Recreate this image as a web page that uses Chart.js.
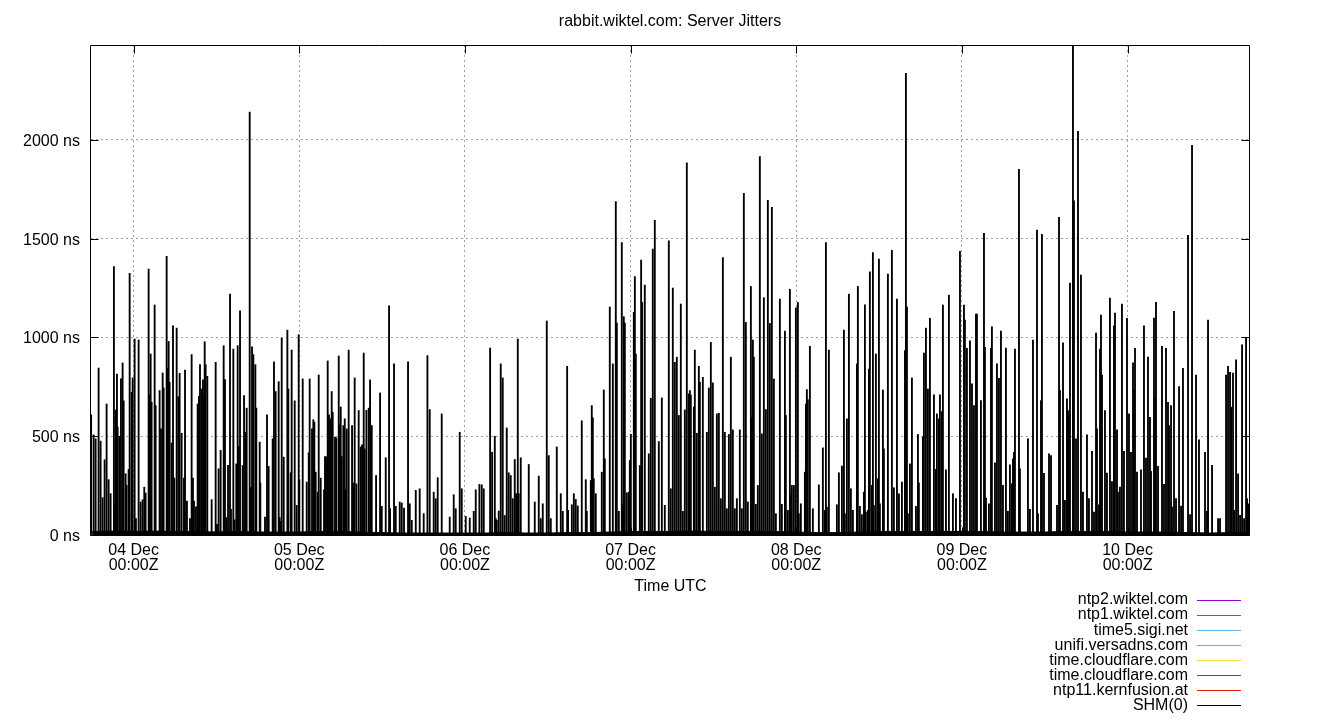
<!DOCTYPE html>
<html><head><meta charset="utf-8">
<script src="https://cdn.jsdelivr.net/npm/chart.js@4.4.1/dist/chart.umd.min.js"></script>
<style>html,body{margin:0;padding:0;background:#fff;}#wrap{width:1340px;height:720px;}</style>
</head><body><div id="wrap"><canvas id="c" width="1340" height="720"></canvas></div>
<script>
// Hours relative to 04 Dec 00:00Z
const serverNames = ['ntp2.wiktel.com','ntp1.wiktel.com','time5.sigi.net','unifi.versadns.com','time.cloudflare.com','time.cloudflare.com','ntp11.kernfusion.at','SHM(0)'];
const serverColors = ['#9400d3','#009e73','#56b4e9','#e69f00','#f0e442','#0072b2','#e51e10','#000000'];

const shmHours = [
-6.15,-5.79,-5.50,-5.07,-4.78,-4.49,-4.20,-3.91,-3.62,-3.33,
-2.85,-2.75,-2.60,-2.41,-2.31,-2.07,-1.83,-1.59,-1.44,-1.15,
-1.01,-0.72,-0.57,-0.28,-0.14,0.15,0.34,0.73,1.02,1.31,
1.55,1.74,2.18,2.32,2.47,2.61,3.05,3.19,3.77,3.97,
4.21,4.35,4.79,4.93,5.08,5.22,5.51,5.71,5.90,6.24,
6.48,6.67,6.96,7.30,7.45,7.73,8.17,8.41,8.60,8.75,
9.04,9.28,9.47,9.62,9.86,10.05,10.15,10.30,10.44,10.68,
11.31,11.89,12.08,12.32,12.61,13.05,13.24,13.44,13.68,13.97,
14.11,14.45,14.64,14.88,15.08,15.22,15.42,15.80,16.00,16.19,
16.38,16.82,16.96,17.16,17.35,17.64,17.78,18.27,18.36,19.04,
19.33,19.57,20.15,20.34,20.58,21.02,21.16,21.36,21.46,21.75,
22.28,22.42,22.76,22.90,23.34,23.63,23.92,24.01,24.50,25.08,
25.37,25.51,25.85,26.04,26.19,26.38,26.67,26.82,27.11,27.59,
27.73,27.88,28.12,28.31,28.51,28.70,28.85,29.18,29.38,29.72,
29.86,30.01,30.15,30.39,30.59,30.73,30.88,31.16,31.65,31.89,
32.03,32.28,32.61,32.90,33.10,33.34,33.48,33.73,34.06,34.26,
34.50,35.13,35.71,35.95,36.53,37.01,37.16,37.73,37.98,38.56,
38.85,39.18,39.76,40.01,40.30,40.88,41.45,42.03,42.57,42.90,
43.48,43.77,44.06,44.64,45.80,46.38,46.67,47.25,47.54,48.12,
48.70,49.28,49.57,50.10,
50.44,50.73,51.65,51.94,52.33,52.47,52.62,52.90,53.19,53.48,
53.77,54.06,54.35,54.64,54.93,55.22,55.42,55.66,55.80,56.09,
57.25,58.12,58.70,58.99,59.28,59.86,60.15,60.44,61.31,61.89,
62.18,62.81,62.95,63.49,63.78,64.06,64.35,64.93,65.51,65.66,
66.24,66.38,66.53,66.67,66.96,67.83,68.12,68.27,68.99,69.43,
69.86,70.01,70.30,70.73,70.88,71.02,71.17,71.46,71.75,71.89,
72.04,72.47,72.62,72.76,73.34,73.53,73.68,74.06,74.64,74.93,
75.22,75.51,76.09,76.53,76.96,77.54,77.83,78.12,78.41,
78.70,78.99,79.28,79.57,79.86,80.15,80.44,80.59,80.73,81.17,
81.31,81.60,81.89,82.04,82.47,83.05,83.34,83.63,83.92,84.21,
84.50,84.79,85.08,85.37,85.66,85.95,86.24,86.53,86.82,87.11,
87.40,87.83,88.12,88.41,88.70,88.99,89.43,89.57,89.72,89.86,
90.15,90.44,90.73,91.02,91.31,91.60,91.89,92.18,92.47,92.76,
93.05,93.63,93.92,94.36,94.50,94.79,95.08,95.22,95.37,95.66,
95.95,96.24,96.38,96.67,97.25,97.40,97.54,97.69,97.98,98.41,
99.28,99.86,100.15,100.30,100.44,100.73,101.89,102.18,102.62,102.91,
103.05,103.34,103.63,103.92,104.21,104.79,104.93,105.22,105.51,105.80,
105.95,106.09,106.38,106.53,106.67,
106.96,107.11,107.25,107.54,107.83,107.98,108.12,108.56,108.70,109.28,
109.86,110.15,110.59,110.88,111.31,111.75,111.89,112.04,112.18,112.47,
112.76,113.34,113.63,113.77,114.35,114.50,114.79,115.08,115.37,115.95,
116.24,116.38,116.67,116.82,117.11,117.25,117.69,118.12,118.70,119.14,
119.72,120.30,120.44,120.73,121.17,121.46,121.75,122.04,122.18,122.76,
123.20,123.34,123.49,123.92,124.21,124.35,124.79,125.08,125.37,125.66,
125.95,126.38,126.67,126.96,127.25,127.40,127.54,127.69,128.27,128.41,
129.57,129.86,130.30,130.88,131.02,131.46,131.60,131.89,132.62,132.91,
133.78,134.07,134.21,134.65,
134.93,135.22,135.37,135.51,135.66,136.09,136.24,136.53,136.82,137.25,
137.54,138.12,138.41,138.85,139.14,139.43,139.57,139.86,140.01,140.15,
140.30,140.73,141.02,141.45,141.74,142.03,142.18,142.47,142.61,142.90,
143.19,143.48,143.92,144.21,144.50,144.79,144.93,145.08,145.37,145.95,
146.38,146.67,146.96,147.25,147.40,147.83,147.98,148.12,148.41,148.99,
149.28,149.57,149.86,150.01,150.30,150.44,150.73,151.02,151.46,151.75,
152.03,152.76,153.05,153.34,153.92,154.35,155.22,155.51,155.66,156.24,
157.11,157.40,158.27,158.56,158.85,159.00,159.28,159.43,159.72,160.01,
160.30,160.59,160.88,161.17,161.32,161.46
];
const shmNs = [
608,507,487,845,475,189,381,663,280,209,
1359,153,633,815,546,500,790,871,679,310,
251,332,1325,722,795,992,83,987,167,179,
242,212,1346,709,916,672,1164,655,731,537,
820,744,1410,845,980,773,466,1059,288,1047,
700,818,515,288,835,172,83,913,288,172,
143,663,702,862,739,785,706,978,862,803,
179,874,54,335,428,958,786,88,352,1219,
130,941,77,360,958,448,1135,352,706,520,
642,2140,242,953,913,862,642,470,264,91,
608,347,487,877,726,776,89,69,997,394,
1037,739,315,936,679,150,1014,280,790,268,
416,790,537,583,571,318,217,810,288,229,
397,396,881,608,588,726,621,495,492,906,
557,648,397,554,588,229,537,936,554,263,
795,259,630,446,456,921,436,631,642,785,
554,301,719,145,391,1160,133,866,145,167,
162,136,877,158,74,226,234,108,908,635,
217,184,290,613,91,204,133,520,234,94,
86,120,229,256,
254,234,946,419,500,83,74,121,866,795,
99,542,315,301,184,382,209,992,209,391,
357,167,298,83,158,1083,402,83,446,209,
120,854,125,153,209,180,147,578,280,120,
276,655,593,285,209,318,734,386,1154,866,
1687,1073,120,1480,158,1105,1073,214,217,377,
510,1127,1308,916,352,1391,1177,1265,411,692,
1447,1593,473,694,150,1489,234,1250,874,
900,605,1169,120,633,1884,714,731,709,648,
936,515,854,773,798,520,744,975,770,242,
613,616,184,1404,520,133,509,900,532,133,
184,532,133,1729,1076,167,1258,596,987,900,
155,251,1915,512,1201,635,1694,1071,1659,790,
108,1194,155,1032,605,125,1244,209,251,251,
1150,1177,108,158,318,663,736,685,955,133,
254,441,125,1480,141,936,153,315,349,1037,
108,588,1219,234,125,866,1258,145,103,217,
1165,116,125,840,1332,
251,1430,150,916,285,1396,158,734,436,1320,
1441,239,1194,209,268,933,2336,1154,108,360,
795,145,509,264,497,921,1047,739,1096,709,
332,613,588,709,625,1164,330,1214,209,184,
1436,1164,1088,945,983,765,655,1118,1118,680,
1527,950,187,158,945,1054,365,866,793,1032,
251,946,120,355,259,386,419,941,1851,335,
487,130,987,1543,108,680,1522,312,411,402,
150,1608,731,972,
175,689,630,605,1275,2700,1691,487,2043,1315,
217,507,184,424,116,1022,537,153,941,1113,
810,630,313,1199,271,1059,1123,532,217,242,
1169,424,1096,613,419,871,736,945,318,330,
1059,389,900,596,322,1098,689,1177,347,955,
256,945,672,554,655,141,1132,184,751,147,
844,1517,103,1972,810,482,419,120,1088,352,
83,83,810,854,823,647,820,125,886,310,
99,962,83,997,184,158
];
// low-level noise floor of SHM(0)
const floorHours = [-6,-3,0,3,6,9,12,15,18,21,24,27,30,33,36,39,42,45,48,51,54,57,60,63,66,69,72,75,78,81,84,87,90,93,96,99,102,105,108,111,114,117,120,123,126,129,132,135,138,141,144,147,150,153,156,159,162];
const floorNs = [18,20,18,20,18,18,15,18,15,15,15,18,18,15,12,10,10,10,10,10,12,10,10,12,12,15,18,18,18,20,18,18,18,18,15,12,12,15,18,18,18,18,18,18,15,15,15,18,18,18,15,15,15,12,10,12,12];

const dayTicks = [0,24,48,72,96,120,144];
const dayLabels = [['04 Dec','00:00Z'],['05 Dec','00:00Z'],['06 Dec','00:00Z'],['07 Dec','00:00Z'],['08 Dec','00:00Z'],['09 Dec','00:00Z'],['10 Dec','00:00Z']];
const yTicks = [0,500,1000,1500,2000];
const xMin = -6.17, xMax = 161.74, yMax = 2480;

const FONT = "'Liberation Sans', Arial, sans-serif";

const datasets = [];
serverNames.forEach((name, i) => {
  if (name === 'SHM(0)') {
    datasets.push({type:'bar', label:name, inKey:true, keyColor:serverColors[i],
      data: shmHours.map((h, j) => ({x:h, y:shmNs[j]})),
      backgroundColor:'#000', borderWidth:0, barThickness:1.2, order:0});
  } else {
    datasets.push({type:'line', label:name, inKey:true, keyColor:serverColors[i], data:[], borderColor:serverColors[i], borderWidth:1, pointRadius:0, order:1});
  }
});
datasets.push({type:'line', label:'SHM(0) floor', inKey:false,
  data: floorHours.map((h, j) => ({x:h, y:floorNs[j]})),
  borderColor:'#000', backgroundColor:'#000', borderWidth:1, pointRadius:0, tension:0, fill:'origin', order:2});

const framePlugin = {
  id:'frame',
  afterDatasetsDraw(chart) {
    const {ctx, chartArea:a, scales:{x, y}} = chart;
    ctx.save();
    ctx.strokeStyle = '#000';
    ctx.lineWidth = 1;
    const L = Math.round(a.left) - 0.5, R = Math.round(a.right) - 0.5, T = Math.round(a.top) + 0.5, B = Math.round(a.bottom) + 0.5;
    ctx.beginPath();
    ctx.moveTo(L, T); ctx.lineTo(R, T); ctx.lineTo(R, B); ctx.lineTo(L, B); ctx.closePath();
    ctx.stroke();
    ctx.beginPath();
    yTicks.forEach(v => {
      const py = Math.round(y.getPixelForValue(v)) + 0.5;
      ctx.moveTo(L, py); ctx.lineTo(L + 8, py);
      ctx.moveTo(R, py); ctx.lineTo(R - 8, py);
    });
    dayTicks.forEach(v => {
      const px = Math.round(x.getPixelForValue(v)) + 0.5;
      ctx.moveTo(px, B); ctx.lineTo(px, B - 8);
      ctx.moveTo(px, T); ctx.lineTo(px, T + 8);
    });
    ctx.stroke();
    // key
    ctx.font = '16px ' + FONT;
    ctx.textAlign = 'right';
    ctx.textBaseline = 'middle';
    ctx.fillStyle = '#000';
    let k = 0;
    chart.data.datasets.forEach(ds => {
      if (!ds.inKey) return;
      const cy = 600 + k * 15.05;
      ctx.fillText(ds.label, 1188, cy);
      ctx.strokeStyle = ds.keyColor;
      ctx.beginPath();
      ctx.moveTo(1197, Math.round(cy) + 0.5); ctx.lineTo(1241, Math.round(cy) + 0.5);
      ctx.stroke();
      k++;
    });
    ctx.restore();
  }
};

new Chart(document.getElementById('c'), {
  type:'bar',
  data:{datasets},
  options:{
    responsive:false, animation:false, devicePixelRatio:1,
    layout:{padding:{left:0, right:0, top:0, bottom:119}},
    plugins:{
      legend:{display:false}, tooltip:{enabled:false},
      title:{display:true, text:'rabbit.wiktel.com: Server Jitters', color:'#000',
        font:{family:FONT, size:16, weight:'normal', lineHeight:1.2}, padding:{top:12.4, bottom:13.4}}
    },
    scales:{
      x:{type:'linear', min:xMin, max:xMax, offset:false,
        afterBuildTicks: s => { s.ticks = dayTicks.map(v => ({value:v})); },
        afterFit: s => { s.height = 66; },
        ticks:{autoSkip:false, maxRotation:0, padding:8, color:'#000',
          font:{family:FONT, size:16, lineHeight:0.95},
          callback:(v, i) => dayLabels[i]},
        grid:{offset:false, color:'#a0a0a0', lineWidth:1, drawTicks:false},
        border:{display:false, dash:[2,3]},
        title:{display:true, text:'Time UTC', color:'#000', font:{family:FONT, size:16, lineHeight:1.2}, padding:{top:4, bottom:5}}
      },
      y:{type:'linear', min:0, max:yMax,
        afterBuildTicks: s => { s.ticks = yTicks.map(v => ({value:v})); },
        afterFit: s => { s.width = 91; },
        ticks:{padding:11, labelOffset:1.5, color:'#000', font:{family:FONT, size:16}, callback: v => v + ' ns'},
        grid:{color:'#a0a0a0', lineWidth:1, drawTicks:false},
        border:{display:false, dash:[2,3]}
      },
      yRight:{type:'linear', position:'right', min:0, max:yMax, display:true,
        afterBuildTicks: s => { s.ticks = []; },
        afterFit: s => { s.width = 90; },
        ticks:{display:false}, grid:{display:false, drawTicks:false}, border:{display:false}
      }
    }
  },
  plugins:[framePlugin]
});
</script>
</body></html>
